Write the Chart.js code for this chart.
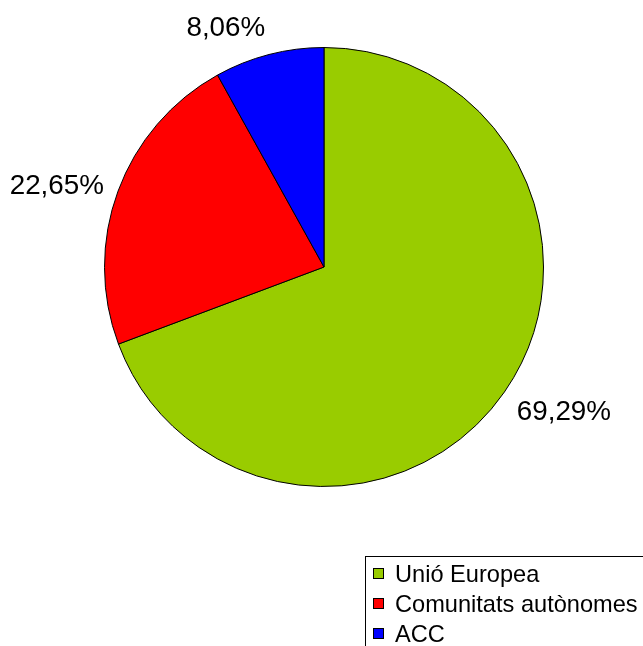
<!DOCTYPE html>
<html>
<head>
<meta charset="utf-8">
<script src="https://cdn.jsdelivr.net/npm/chart.js@4.4.1/dist/chart.umd.min.js"></script>
<style>
  html, body { margin: 0; padding: 0; background: #fff; overflow: hidden; }
  #wrap { width: 643px; height: 646px; }
</style>
</head>
<body>
<div id="wrap"><canvas id="myChart" width="643" height="646"></canvas></div>
<script>
// data
var categories = ['Unió Europea', 'Comunitats autònomes', 'ACC'];
var shares = [69.29, 22.65, 8.06];
var shareLabels = ['69,29%', '22,65%', '8,06%'];
var colors = ['#99cc00', '#ff0000', '#0000ff'];

// labels outside the slices
var outsideLabels = {
    id: 'outsideLabels',
    afterDatasetsDraw: function (chart) {
        var ctx = chart.ctx;
        var arcs = chart.getDatasetMeta(0).data;
        ctx.save();
        ctx.font = '27.8px "Liberation Sans", Arial, sans-serif';
        ctx.fillStyle = '#000';
        ctx.textAlign = 'center';
        ctx.textBaseline = 'middle';
        arcs.forEach(function (arc, i) {
            var p = arc.getProps(['x', 'y', 'startAngle', 'endAngle', 'outerRadius'], true);
            var mid = (p.startAngle + p.endAngle) / 2;
            var dx = Math.cos(mid), dy = Math.sin(mid);
            var r = p.outerRadius + 15;
            var ax = p.x + dx * r, ay = p.y + dy * r;
            var w = ctx.measureText(shareLabels[i]).width, h = 24;
            var sx = dx > 0.1 ? 1 : (dx < -0.1 ? -1 : 0);
            var sy = dy > 0.4 ? 1 : (dy < -0.4 ? -1 : 0);
            ctx.fillText(shareLabels[i], ax + sx * w / 2, ay + sy * h / 2);
        });
        ctx.restore();
    }
};

// boxed legend at bottom right
var boxLegend = {
    id: 'boxLegend',
    afterDraw: function (chart) {
        var ctx = chart.ctx;
        ctx.save();
        ctx.strokeStyle = '#000';
        ctx.lineWidth = 1;
        ctx.strokeRect(365.5, 556.5, 300, 120);
        ctx.font = '23.6px "Liberation Sans", Arial, sans-serif';
        ctx.textBaseline = 'alphabetic';
        ctx.textAlign = 'left';
        categories.forEach(function (c, i) {
            var y = 568 + i * 30;
            ctx.fillStyle = colors[i];
            ctx.fillRect(373, y, 11, 11);
            ctx.strokeRect(373.5, y + 0.5, 10, 10);
            ctx.fillStyle = '#000';
            ctx.fillText(c, 395, y + 14);
        });
        ctx.restore();
    }
};

var ctx = document.getElementById('myChart').getContext('2d');
var myChart = new Chart(ctx, {
    type: 'pie',
    data: {
        labels: categories,
        datasets: [{
            data: shares,
            backgroundColor: colors,
            borderColor: '#000',
            borderWidth: 1
        }]
    },
    options: {
        responsive: false,
        animation: false,
        layout: { padding: { left: 104, right: 99, top: 47, bottom: 159 } },
        plugins: {
            legend: { display: false },
            tooltip: { enabled: false }
        }
    },
    plugins: [outsideLabels, boxLegend]
});
</script>
</body>
</html>
